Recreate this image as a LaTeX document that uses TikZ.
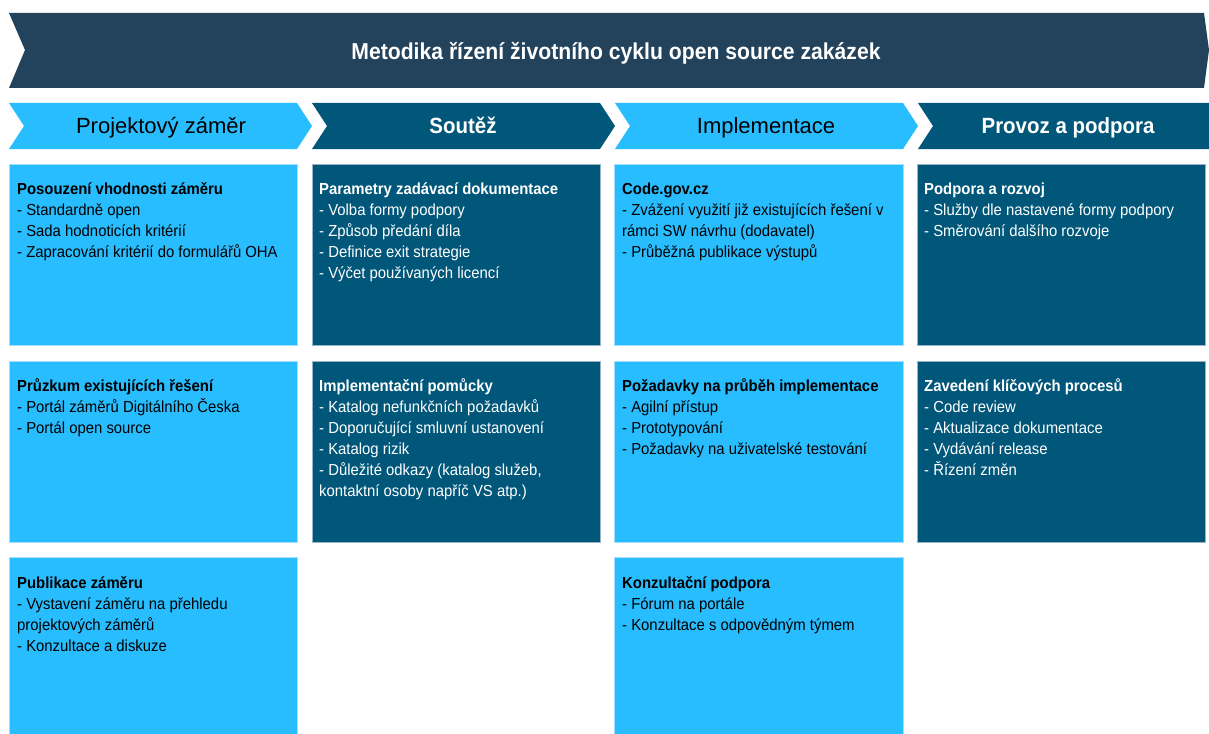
\documentclass[tikz,border=0pt]{standalone}
\usepackage{fontspec}
\setmainfont{Liberation Sans}
\newfontfamily\boxfont[FakeStretch=0.93]{Liberation Sans}
\newfontfamily\hdrfont[FakeStretch=0.92]{Liberation Sans}
\definecolor{cHead}{RGB}{35,67,92}
\definecolor{cLight}{RGB}{40,189,255}
\definecolor{cDark}{RGB}{0,87,122}
\definecolor{cLightBorder}{RGB}{165,222,250}
\definecolor{cDarkBorder}{RGB}{150,180,200}
\newcommand\blines[1]{\vtop{\baselineskip=21pt\lineskiplimit=-20pt\lineskip=0pt #1}}
\newcommand\bxl[1]{\hbox{\strut #1}}
\tikzset{
  lightbox/.style={fill=cLight, draw=cLightBorder, line width=0.8pt, anchor=north west, inner sep=0, minimum width=288, minimum height=181},
  darkbox/.style={fill=cDark, draw=cDarkBorder, line width=0.8pt, anchor=north west, inner sep=0, minimum width=288, minimum height=181},
  boxtxt/.style={anchor=base west, inner sep=0, font=\boxfont\fontsize{16}{21}\selectfont},
  darktxt/.style={boxtxt, text=white},
  lighttxt/.style={boxtxt, text=black},
  chevtxtlight/.style={anchor=base, inner sep=0, text=black, font=\fontsize{22}{26}\selectfont},
  chevtxtdark/.style={anchor=base, inner sep=0, text=white, font=\boxfont\bfseries\fontsize{22}{26}\selectfont},
}
\begin{document}
\begin{tikzpicture}[x=1pt,y=-1pt]
\useasboundingbox (0,0) rectangle (1209,733);
\clip (0,0) rectangle (1209,733);
\fill[white] (0,0) rectangle (1209,733);

% header banner
\fill[cHead] (9,13) -- (1204,13) -- (1209,50) -- (1204,88) -- (9,88) -- (25,50) -- cycle;
\node[anchor=base, inner sep=0, text=white, font=\hdrfont\bfseries\fontsize{23}{28}\selectfont] (title) at (616,60) {Metodika řízení životního cyklu open source zakázek};

% phase chevrons
\fill[cLight] (9,103) -- (297,103) -- (312,126) -- (297,149) -- (9,149) -- (24,126) -- cycle;
\fill[cDark] (312,103) -- (600,103) -- (615,126) -- (600,149) -- (312,149) -- (327,126) -- cycle;
\fill[cLight] (615,103) -- (903,103) -- (918,126) -- (903,149) -- (615,149) -- (630,126) -- cycle;
\fill[cDark] (918,103) -- (1209,103) -- (1209,149) -- (918,149) -- (933,126) -- cycle;
\node[chevtxtlight] (ph1) at (161,134) {Projektový záměr};
\node[chevtxtdark] (ph2) at (463,134) {Soutěž};
\node[chevtxtlight] (ph3) at (766,134) {Implementace};
\node[chevtxtdark] (ph4) at (1068,134) {Provoz a podpora};

% row 1
\node[lightbox] (b11) at (9,164) {};
\node[darkbox] (b21) at (312,164) {};
\node[lightbox, minimum width=289] (b31) at (614,164) {};
\node[darkbox] (b41) at (917,164) {};
% row 2
\node[lightbox] (b12) at (9,361) {};
\node[darkbox] (b22) at (312,361) {};
\node[lightbox, minimum width=289] (b32) at (614,361) {};
\node[darkbox] (b42) at (917,361) {};
% row 3
\node[lightbox, minimum height=190] (b13) at (9,557) {};
\node[lightbox, minimum width=289, minimum height=190] (b33) at (614,557) {};

% texts row 1
\node[lighttxt] (t11) at (17,194) {\blines{\bxl{\bfseries Posouzení vhodnosti záměru}\bxl{- Standardně open}\bxl{- Sada hodnoticích kritérií}\bxl{- Zapracování kritérií do formulářů OHA}}};
\node[darktxt] (t21) at (319,194) {\blines{\bxl{\bfseries Parametry zadávací dokumentace}\bxl{- Volba formy podpory}\bxl{- Způsob předání díla}\bxl{- Definice exit strategie}\bxl{- Výčet používaných licencí}}};
\node[lighttxt] (t31) at (622,194) {\blines{\bxl{\bfseries Code.gov.cz}\bxl{- Zvážení využití již existujících řešení v}\bxl{rámci SW návrhu (dodavatel)}\bxl{- Průběžná publikace výstupů}}};
\node[darktxt] (t41) at (924,194) {\blines{\bxl{\bfseries Podpora a rozvoj}\bxl{- Služby dle nastavené formy podpory}\bxl{- Směrování dalšího rozvoje}}};

% texts row 2
\node[lighttxt] (t12) at (17,391) {\blines{\bxl{\bfseries Průzkum existujících řešení}\bxl{- Portál záměrů Digitálního Česka}\bxl{- Portál open source}}};
\node[darktxt] (t22) at (319,391) {\blines{\bxl{\bfseries Implementační pomůcky}\bxl{- Katalog nefunkčních požadavků}\bxl{- Doporučující smluvní ustanovení}\bxl{- Katalog rizik}\bxl{- Důležité odkazy (katalog služeb,}\bxl{kontaktní osoby napříč VS atp.)}}};
\node[lighttxt] (t32) at (622,391) {\blines{\bxl{\bfseries Požadavky na průběh implementace}\bxl{- Agilní přístup}\bxl{- Prototypování}\bxl{- Požadavky na uživatelské testování}}};
\node[darktxt] (t42) at (924,391) {\blines{\bxl{\bfseries Zavedení klíčových procesů}\bxl{- Code review}\bxl{- Aktualizace dokumentace}\bxl{- Vydávání release}\bxl{- Řízení změn}}};

% texts row 3
\node[lighttxt] (t13) at (17,588) {\blines{\bxl{\bfseries Publikace záměru}\bxl{- Vystavení záměru na přehledu}\bxl{projektových záměrů}\bxl{- Konzultace a diskuze}}};
\node[lighttxt] (t33) at (622,588) {\blines{\bxl{\bfseries Konzultační podpora}\bxl{- Fórum na portále}\bxl{- Konzultace s odpovědným týmem}}};
\end{tikzpicture}
\end{document}
